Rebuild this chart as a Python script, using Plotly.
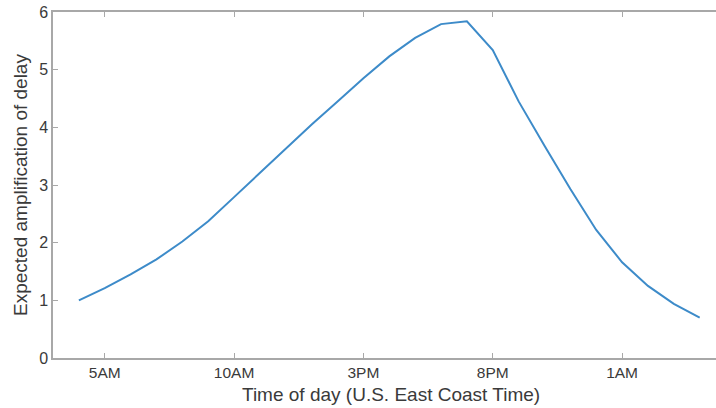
import plotly.graph_objects as go

hours = [4, 5, 6, 7, 8, 9, 10, 11, 12, 13, 14, 15, 16, 17, 18, 19, 20, 21, 22, 23, 24, 25, 26, 27, 28]
amplification = [1.00, 1.21, 1.45, 1.71, 2.02, 2.37, 2.79, 3.21, 3.63, 4.05, 4.45, 4.85, 5.23, 5.55,
                 5.79, 5.84, 5.34, 4.45, 3.68, 2.93, 2.22, 1.66, 1.25, 0.94, 0.70]
x_tickvals = [5, 10, 15, 20, 25]
x_ticktext = ["5AM", "10AM", "3PM", "8PM", "1AM"]
y_tickvals = [0, 1, 2, 3, 4, 5, 6]

FONT = "Liberation Sans, Arial, sans-serif"
TXT = "#3a3a3a"
AX = "#a8a8a8"

fig = go.Figure()
fig.add_trace(go.Scatter(x=hours, y=amplification, mode="lines",
                         line=dict(color="#3d8bc9", width=2), showlegend=False))

fig.update_layout(
    width=716, height=408,
    margin=dict(l=53, r=0, t=12, b=50),
    paper_bgcolor="white", plot_bgcolor="white",
    font=dict(family=FONT, size=15.5, color=TXT),
    xaxis=dict(range=[3, 28.63], tickvals=x_tickvals, ticktext=x_ticktext,
               showgrid=False, zeroline=False, showline=True, linecolor=AX, linewidth=1.5,
               mirror="ticks", ticks="inside", ticklen=5, tickcolor=AX, tickwidth=1,
               tickfont=dict(size=15.5, color=TXT)),
    yaxis=dict(range=[0, 6], tickvals=y_tickvals,
               showgrid=False, zeroline=False, showline=True, linecolor=AX, linewidth=1.5,
               ticks="inside", ticklen=5, tickcolor=AX, tickwidth=1,
               tickfont=dict(size=16, color=TXT)),
    annotations=[
        dict(text="Time of day (U.S. East Coast Time)", xref="paper", yref="paper",
             x=(391 - 53) / 663, y=(358 - 394) / 346, xanchor="center", yanchor="middle",
             showarrow=False, font=dict(size=19, color=TXT)),
        dict(text="Expected amplification of delay", xref="paper", yref="paper",
             x=(20 - 53) / 663, y=(358 - 185) / 346, xanchor="center", yanchor="middle",
             textangle=-90, showarrow=False, font=dict(size=19, color=TXT)),
    ],
)

fig.write_html("out.html")
